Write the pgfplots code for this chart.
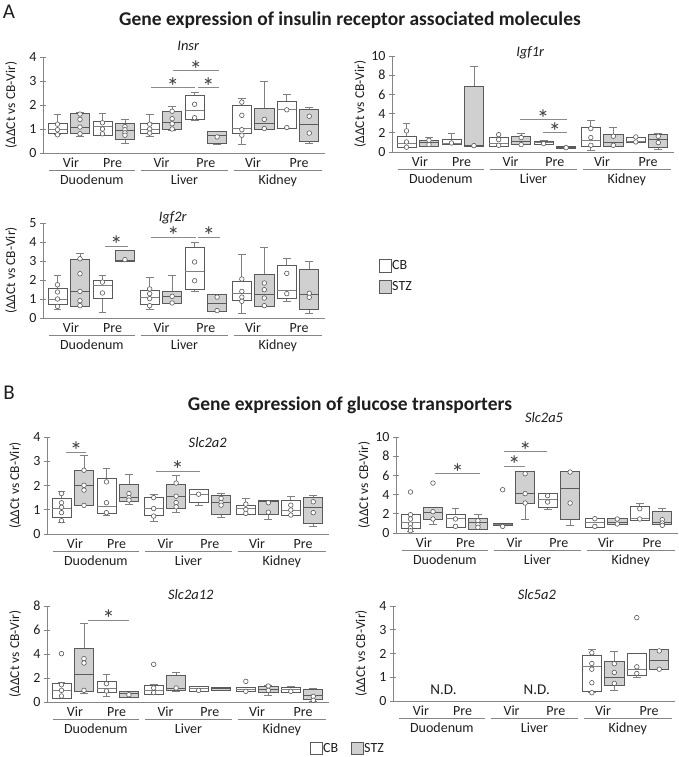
\documentclass[border=0pt]{standalone}
\usepackage{fontspec}
\setmainfont{Carlito}
\usepackage{pgfplots}
\pgfplotsset{compat=1.18}
\usepgfplotslibrary{statistics}

\definecolor{boxc}{HTML}{5A5A5A}
\definecolor{whc}{HTML}{808080}
\definecolor{stzc}{HTML}{D0D0D0}
\definecolor{axc}{HTML}{858585}
\definecolor{txt}{HTML}{1E1E1E}
\definecolor{sigc}{HTML}{8A8A8A}
\definecolor{astc}{HTML}{404040}

\newcommand{\fs}[1]{\fontsize{#1}{#1}\selectfont}

\pgfplotsset{
  panel/.style={scale only axis, width=282pt, height=96pt,
    xmin=0.355, xmax=12.9, ymin=0,
    axis x line*=bottom, axis y line*=left, xtick=\empty, clip=false,
    anchor=south west,
    axis line style={axc, line width=0.8pt},
    ytick style={axc, line width=0.8pt},
    tick align=center, major tick length=6pt,
    /pgf/number format/assume math mode=true,
    yticklabel style={font=\fs{14}, text=txt},
    ylabel={(ΔΔCt vs CB-Vir)},
    ylabel style={at={(axis description cs:-0.113,0.5)}, anchor=center, font=\fs{13.5}, text=txt}},
  cb/.style={draw=boxc,
    boxplot/every box/.style={draw=boxc, fill=white, line width=0.7pt},
    boxplot/every whisker/.style={draw=whc, line width=0.8pt},
    boxplot/every median/.style={draw=whc, line width=0.8pt}},
  stz/.style={draw=boxc,
    boxplot/every box/.style={draw=boxc, fill=stzc, line width=0.7pt},
    boxplot/every whisker/.style={draw=whc, line width=0.8pt},
    boxplot/every median/.style={draw=boxc, line width=0.8pt}},
  pts/.style={only marks, mark=*, mark size=2.3pt, mark options={fill=white, draw=boxc, line width=0.6pt}},
}
\tikzset{lab/.style={anchor=base, font=\fs{14}, text=txt, inner sep=0pt}}

% #1 position, #2 style, #3 lower whisker, #4 Q1, #5 median, #6 Q3, #7 upper whisker
\newcommand{\B}[7]{\addplot[#2, boxplot prepared={draw direction=y, draw position=#1, lower whisker=#3, lower quartile=#4, median=#5, upper quartile=#6, upper whisker=#7, box extend=0.85, whisker extend=0.35}] coordinates {};}
% #1 x1, #2 x2, #3 y, #4 midpoint
\newcommand{\sig}[4]{%
  \draw[sigc, line width=0.9pt] (axis cs:#1,#3) -- (axis cs:#2,#3);
  \node[anchor=base, font=\fs{25}, text=astc, inner sep=0pt] at ([yshift=-7.5pt]axis cs:#4,#3) {*};}
\newcommand{\groups}{%
  \node[lab] at ([yshift=-14pt]axis cs:1.6,0) {Vir};
  \node[lab] at ([yshift=-14pt]axis cs:3.45,0) {Pre};
  \node[lab] at ([yshift=-14pt]axis cs:5.63,0) {Vir};
  \node[lab] at ([yshift=-14pt]axis cs:7.6,0) {Pre};
  \node[lab] at ([yshift=-14pt]axis cs:9.7,0) {Vir};
  \node[lab] at ([yshift=-14pt]axis cs:11.75,0) {Pre};
  \draw[axc, line width=0.8pt] ([yshift=-17pt]axis cs:0.62,0) -- ([yshift=-17pt]axis cs:4.44,0);
  \draw[axc, line width=0.8pt] ([yshift=-17pt]axis cs:4.71,0) -- ([yshift=-17pt]axis cs:8.58,0);
  \draw[axc, line width=0.8pt] ([yshift=-17pt]axis cs:8.84,0) -- ([yshift=-17pt]axis cs:12.75,0);
  \node[lab] at ([yshift=-31pt]axis cs:2.53,0) {Duodenum};
  \node[lab] at ([yshift=-31pt]axis cs:6.65,0) {Liver};
  \node[lab] at ([yshift=-31pt]axis cs:10.8,0) {Kidney};}

\begin{document}
\begin{tikzpicture}
\useasboundingbox (0,0) rectangle (678pt,-757pt);

% ---------- headings ----------
\node[font=\fs{21}, text=txt, anchor=center] at (9pt,-12pt) {A};
\node[font=\bfseries\fs{19.5}, text=txt] at (350pt,-20pt) {Gene expression of insulin receptor associated molecules};
\node[font=\fs{21}, text=txt, anchor=center] at (9pt,-393pt) {B};
\node[font=\bfseries\fs{19.5}, text=txt] at (350pt,-405pt) {Gene expression of glucose transporters};

% ---------- Insr ----------
\begin{axis}[panel, at={(43pt,-153pt)}, ymax=4, ytick={0,1,2,3,4}]
\B{1}{cb}{0.76}{0.8}{0.97}{1.25}{1.6}
\B{2}{stz}{0.68}{0.8}{1.08}{1.64}{1.7}
\B{3}{cb}{0.74}{0.74}{1.12}{1.33}{1.64}
\B{4}{stz}{0.39}{0.57}{0.94}{1.25}{1.4}
\B{5.1}{cb}{0.7}{0.8}{1.0}{1.25}{1.6}
\B{6.1}{stz}{0.95}{1.0}{1.26}{1.74}{1.94}
\B{7.1}{cb}{1.36}{1.39}{1.78}{2.4}{2.53}
\B{8.1}{stz}{0.36}{0.42}{0.74}{0.9}{0.92}
\B{9.2}{cb}{0.35}{0.8}{1.02}{1.99}{2.29}
\B{10.2}{stz}{0.97}{0.97}{1.25}{1.85}{3.0}
\B{11.2}{cb}{1.01}{1.01}{1.8}{2.17}{2.44}
\B{12.2}{stz}{0.39}{0.49}{1.19}{1.8}{1.89}
\addplot[pts] coordinates {(1,1.2)(1,0.97)(1,0.76)
 (2,1.62)(2,1.4)(2,1.08)(2,0.8)
 (3,1.26)(3,1.0)(3,0.8)
 (4,1.1)(4,0.97)(4,0.84)(4,0.74)
 (5.1,1.2)(5.1,1.0)(5.1,0.83)
 (6.1,1.74)(6.1,1.43)(6.1,1.22)(6.1,1.0)
 (7.1,2.03)(7.1,1.47)
 (8.1,0.67)
 (9.2,2.12)(9.2,1.57)(9.2,0.97)(9.2,0.74)
 (10.2,1.4)(10.2,1.02)
 (11.2,1.8)(11.2,1.06)
 (12.2,1.53)(12.2,0.83)};
\sig{5.15}{7.11}{2.72}{6.13}
\sig{7.24}{8.18}{2.72}{7.71}
\sig{6.13}{8.18}{3.42}{7.15}
\groups
\node[font=\itshape\fs{14.5}, text=txt] at (axis description cs:0.515,1.12) {Insr};
\end{axis}

% ---------- Igf1r ----------
\begin{axis}[panel, at={(392pt,-152pt)}, ymax=10, ytick={0,2,4,6,8,10}]
\B{1}{cb}{0.45}{0.52}{0.94}{1.67}{2.96}
\B{2}{stz}{0.6}{0.6}{1.0}{1.22}{1.5}
\B{3}{cb}{0.8}{0.8}{0.94}{1.29}{1.92}
\B{4}{stz}{0.6}{0.6}{0.66}{6.8}{8.88}
\B{5.1}{cb}{0.6}{0.6}{0.9}{1.5}{1.5}
\B{6.1}{stz}{0.77}{0.77}{1.1}{1.67}{1.92}
\B{7.1}{cb}{0.8}{0.8}{0.97}{1.11}{1.2}
\B{8.1}{stz}{0.35}{0.35}{0.45}{0.63}{0.63}
\B{9.2}{cb}{0.17}{0.63}{1.22}{2.54}{3.31}
\B{10.2}{stz}{0.63}{0.63}{1.05}{1.88}{2.61}
\B{11.2}{cb}{1.05}{1.05}{1.1}{1.57}{1.57}
\B{12.2}{stz}{0.24}{0.45}{1.29}{1.88}{1.95}
\addplot[pts] coordinates {(1,2.2)(1,1.05)(1,0.5)
 (2,1.22)(2,0.77)
 (3,0.94)
 (4,0.66)
 (5.1,1.81)(5.1,1.29)(5.1,0.7)
 (6.1,1.5)(6.1,0.77)
 (7.1,0.87)
 (8.1,0.45)
 (9.2,2.44)(9.2,1.5)(9.2,0.7)
 (10.2,1.64)(10.2,0.7)
 (11.2,1.57)(11.2,1.05)
 (12.2,1.64)(12.2,0.98)};
\sig{6.04}{8.13}{3.38}{7.08}
\sig{7.07}{8.13}{1.99}{7.6}
\groups
\node[font=\itshape\fs{14.5}, text=txt] at (axis description cs:0.49,1.03) {Igf1r};
\end{axis}

% ---------- Igf2r ----------
\begin{axis}[panel, at={(43pt,-318pt)}, height=95pt, ymax=5, ytick={0,1,2,3,4,5}]
\B{1}{cb}{0.44}{0.7}{1.0}{1.54}{2.25}
\B{2}{stz}{0.61}{0.61}{1.4}{3.07}{3.42}
\B{3}{cb}{0.32}{1.05}{1.7}{1.98}{2.25}
\B{4}{stz}{3.0}{3.0}{3.03}{3.54}{3.54}
\B{5.1}{cb}{0.44}{0.7}{1.1}{1.46}{2.14}
\B{6.1}{stz}{0.79}{0.79}{1.14}{1.4}{2.25}
\B{7.1}{cb}{1.4}{1.53}{2.46}{3.74}{4.0}
\B{8.1}{stz}{0.35}{0.35}{0.75}{1.23}{1.23}
\B{9.2}{cb}{0.26}{0.91}{1.32}{1.93}{3.33}
\B{10.2}{stz}{0.61}{0.61}{1.23}{2.28}{3.74}
\B{11.2}{cb}{0.88}{1.05}{1.44}{2.77}{3.16}
\B{12.2}{stz}{0.26}{0.44}{1.23}{2.54}{2.98}
\addplot[pts] coordinates {(1,1.75)(1,1.37)(1,1.0)(1,0.61)
 (2,3.12)(2,2.33)(2,1.4)(2,0.91)(2,0.65)
 (3,1.89)(3,1.32)
 (4,3.07)
 (5.1,1.53)(5.1,1.28)(5.1,1.02)(5.1,0.65)
 (6.1,1.14)(6.1,0.79)
 (7.1,2.95)(7.1,1.96)
 (8.1,1.1)(8.1,0.39)
 (9.2,2.05)(9.2,1.4)(9.2,1.1)(9.2,0.88)
 (10.2,1.84)(10.2,1.49)(10.2,1.05)(10.2,0.65)
 (11.2,2.35)(11.2,1.28)
 (12.2,1.3)(12.2,1.09)};
\sig{3.11}{4.13}{3.77}{3.62}
\sig{5.15}{7.15}{4.25}{6.15}
\sig{7.24}{8.22}{4.25}{7.73}
\groups
\node[font=\itshape\fs{14.5}, text=txt] at (axis description cs:0.46,1.05) {Igf2r};
\end{axis}

% legend A
\draw[boxc, line width=0.7pt, fill=white] (379pt,-259pt) rectangle (391pt,-272pt);
\node[anchor=west, font=\fs{14}, text=txt, inner sep=1pt] at (391pt,-265.5pt) {CB};
\draw[boxc, line width=0.7pt, fill=stzc] (379pt,-280pt) rectangle (391pt,-293pt);
\node[anchor=west, font=\fs{14}, text=txt, inner sep=1pt] at (391pt,-286.5pt) {STZ};

% ---------- Slc2a2 ----------
\begin{axis}[panel, at={(47pt,-534pt)}, height=97pt, ymax=4, ytick={0,1,2,3,4}]
\B{1}{cb}{0.48}{0.68}{1.04}{1.47}{1.74}
\B{2}{stz}{1.18}{1.18}{2.01}{2.63}{3.25}
\B{3}{cb}{0.78}{0.85}{1.12}{2.29}{2.7}
\B{4}{stz}{1.22}{1.36}{1.53}{2.04}{2.45}
\B{5.1}{cb}{0.5}{0.75}{1.05}{1.5}{1.64}
\B{6.1}{stz}{0.88}{1.04}{1.56}{2.05}{2.42}
\B{7.1}{cb}{1.16}{1.29}{1.64}{1.83}{1.83}
\B{8.1}{stz}{0.68}{0.82}{1.3}{1.6}{1.67}
\B{9.2}{cb}{0.82}{0.82}{1.05}{1.19}{1.47}
\B{10.2}{stz}{0.6}{0.82}{1.35}{1.37}{1.37}
\B{11.2}{cb}{0.78}{0.78}{0.99}{1.37}{1.56}
\B{12.2}{stz}{0.3}{0.44}{1.1}{1.53}{1.6}
\addplot[pts] coordinates {(1,1.67)(1,1.29)(1,1.1)(1,0.88)(1,0.55)
 (2,2.63)(2,2.01)(2,1.81)(2,1.18)
 (3,2.15)(3,1.29)(3,0.88)
 (4,1.67)(4,1.5)(4,1.4)
 (5.1,1.5)(5.1,1.05)(5.1,0.74)
 (6.1,2.1)(6.1,1.56)(6.1,1.3)(6.1,1.12)
 (7.1,1.64)
 (8.1,1.47)(8.1,1.3)(8.1,1.19)
 (9.2,1.23)(9.2,1.01)(9.2,0.85)
 (10.2,1.29)(10.2,0.9)
 (11.2,1.19)(11.2,0.99)(11.2,0.78)
 (12.2,1.33)(12.2,0.88)};
\sig{1.2}{2.09}{3.38}{1.65}
\sig{5.2}{7.15}{2.6}{6.17}
\groups
\node[font=\itshape\fs{14.5}, text=txt] at (axis description cs:0.57,0.94) {Slc2a2};
\end{axis}

% ---------- Slc2a5 ----------
\begin{axis}[panel, at={(396pt,-533pt)}, ymax=10, ytick={0,2,4,6,8,10}]
\B{1}{cb}{0.17}{0.45}{1.11}{1.91}{1.91}
\B{2}{stz}{0.94}{1.46}{2.15}{2.71}{2.71}
\B{3}{cb}{0.63}{0.63}{1.56}{1.91}{2.6}
\B{4}{stz}{0.42}{0.42}{1.15}{1.56}{1.98}
\B{5.1}{cb}{0.76}{0.76}{0.87}{1.04}{1.04}
\B{6.1}{stz}{1.39}{3.12}{4.1}{6.42}{6.42}
\B{7.1}{cb}{2.5}{2.67}{3.47}{4.1}{4.1}
\B{8.1}{stz}{0.8}{1.46}{4.69}{6.42}{6.42}
\B{9.2}{cb}{0.63}{0.63}{1.11}{1.56}{1.56}
\B{10.2}{stz}{0.87}{0.87}{1.11}{1.49}{1.49}
\B{11.2}{cb}{1.28}{1.28}{1.56}{2.78}{3.06}
\B{12.2}{stz}{0.87}{0.87}{1.11}{2.26}{2.6}
\addplot[pts] coordinates {(1,4.27)(1,1.91)(1,1.46)(1,0.94)(1,0.52)(1,0.24)
 (2,5.2)(2,2.22)(2,1.46)
 (3,1.46)(3,0.69)
 (4,1.28)(4,0.87)(4,0.59)
 (5.1,4.51)(5.1,0.69)
 (6.1,6.18)(6.1,4.1)(6.1,3.12)
 (7.1,3.89)(7.1,3.23)
 (8.1,6.35)(8.1,3.12)
 (9.2,1.49)(9.2,0.69)
 (10.2,1.46)(10.2,0.94)
 (11.2,2.53)(11.2,1.46)
 (12.2,1.39)(12.2,1.04)(12.2,0.8)};
\sig{2.09}{4.09}{6.18}{3.09}
\sig{5.15}{6.09}{6.94}{5.62}
\sig{5.15}{7.07}{8.47}{6.11}
\groups
\node[font=\itshape\fs{14.5}, text=txt] at (axis description cs:0.525,1.2) {Slc2a5};
\end{axis}

% ---------- Slc2a12 ----------
\begin{axis}[panel, at={(47pt,-702pt)}, ymax=8, ytick={0,2,4,6,8}]
\B{1}{cb}{0.3}{0.3}{0.97}{1.53}{1.6}
\B{2}{stz}{0.75}{0.92}{2.28}{4.44}{6.53}
\B{3}{cb}{0.47}{0.83}{1.17}{1.72}{2.28}
\B{4}{stz}{0.42}{0.42}{0.69}{0.89}{0.89}
\B{5.1}{cb}{0.61}{0.61}{0.97}{1.39}{1.44}
\B{6.1}{stz}{0.89}{0.97}{1.17}{2.22}{2.44}
\B{7.1}{cb}{0.89}{0.89}{1.11}{1.31}{1.31}
\B{8.1}{stz}{0.97}{0.97}{1.11}{1.25}{1.25}
\B{9.2}{cb}{0.92}{0.92}{1.06}{1.25}{1.25}
\B{10.2}{stz}{0.56}{0.83}{1.06}{1.31}{1.39}
\B{11.2}{cb}{0.78}{0.78}{1.06}{1.19}{1.33}
\B{12.2}{stz}{0.06}{0.22}{0.56}{1.03}{1.17}
\addplot[pts] coordinates {(1,4.03)(1,1.44)(1,0.97)(1,0.5)
 (2,3.61)(2,3.25)(2,0.97)
 (3,1.53)(3,0.92)
 (4,0.61)
 (5.1,3.14)(5.1,1.17)(5.1,0.78)
 (6.1,1.17)
 (7.1,0.97)
 (9.2,1.72)(9.2,0.89)
 (10.2,1.33)(10.2,0.97)
 (11.2,0.89)
 (12.2,0.47)(12.2,0.14)};
\sig{2.18}{4.0}{6.8}{3.09}
\groups
\node[font=\itshape\fs{14.5}, text=txt] at (axis description cs:0.51,1.12) {Slc2a12};
\end{axis}

% ---------- Slc5a2 ----------
\begin{axis}[panel, at={(393pt,-701pt)}, height=95pt, ymax=4, ytick={0,1,2,3,4}]
\B{9.2}{cb}{0.35}{0.42}{1.44}{1.93}{2.18}
\B{10.2}{stz}{0.46}{0.64}{1.0}{1.68}{2.07}
\B{11.2}{cb}{1.0}{1.09}{1.34}{2.0}{2.0}
\B{12.2}{stz}{1.33}{1.33}{1.72}{2.18}{2.18}
\addplot[pts] coordinates {(9.2,2.03)(9.2,1.58)(9.2,1.34)(9.2,0.77)(9.2,0.35)
 (10.2,1.57)(10.2,1.2)(10.2,0.74)
 (11.2,3.51)(11.2,1.44)(11.2,1.16)
 (12.2,2.11)(12.2,1.34)};
\node[font=\fs{15}, text=txt] at (axis cs:2.6,0.46) {N.D.};
\node[font=\fs{15}, text=txt] at (axis cs:6.75,0.46) {N.D.};
\groups
\node[font=\itshape\fs{14.5}, text=txt] at (axis description cs:0.51,1.12) {Slc5a2};
\end{axis}

% legend B
\draw[boxc, line width=0.7pt, fill=white] (310pt,-742pt) rectangle (322pt,-754pt);
\node[anchor=west, font=\fs{14}, text=txt, inner sep=1pt] at (322pt,-748pt) {CB};
\draw[boxc, line width=0.7pt, fill=stzc] (351pt,-742pt) rectangle (363pt,-754pt);
\node[anchor=west, font=\fs{14}, text=txt, inner sep=1pt] at (363pt,-748pt) {STZ};
\end{tikzpicture}
\end{document}
